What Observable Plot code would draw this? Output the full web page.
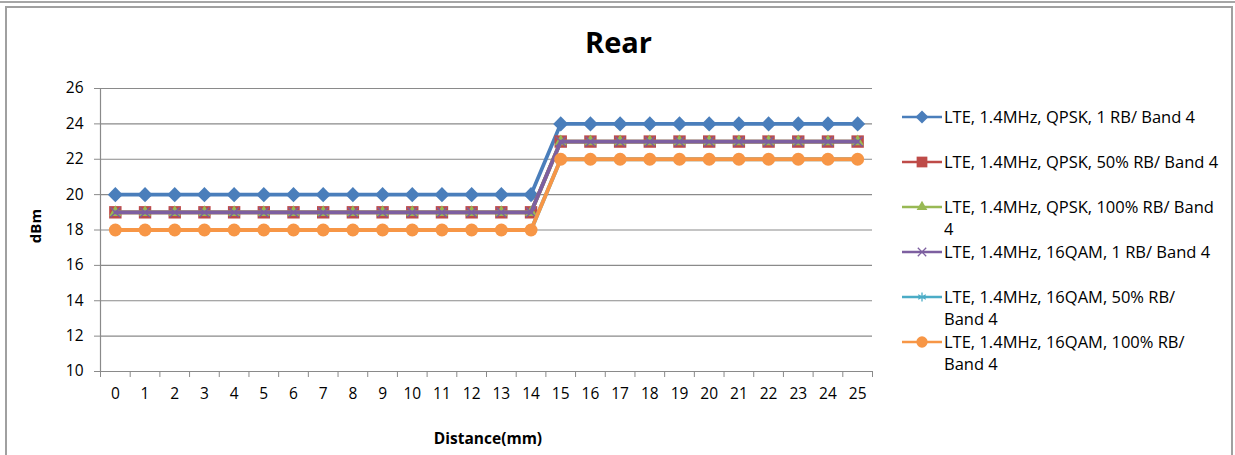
<!DOCTYPE html>
<html><head><meta charset="utf-8">
<script src="https://cdn.jsdelivr.net/npm/d3@7"></script>
<script src="https://cdn.jsdelivr.net/npm/@observablehq/plot@0.6"></script>
<style>
body{margin:0;background:#fff;}
#wrap{position:relative;width:1235px;height:455px;overflow:hidden;font-family:"Open Sans",sans-serif;color:#000;}
#topline{position:absolute;left:0;top:1px;width:1235px;border-top:2px solid #a6a6a6;}
#frame{position:absolute;left:5px;top:6px;width:1224px;height:480px;border:2px solid #a0a0a0;}
#chart{position:absolute;left:0;top:0;}
#title{position:absolute;left:5px;width:1227px;top:23px;text-align:center;font-size:29px;font-weight:bold;line-height:38px;}
#ylab{position:absolute;left:35px;top:226px;transform:translate(-50%,-50%) rotate(-90deg);font-size:15px;font-weight:bold;}
#xlab{position:absolute;left:488px;top:438px;transform:translate(-50%,-50%);font-size:15.5px;font-weight:bold;white-space:nowrap;}
.leg{position:absolute;left:900px;font-size:16.5px;line-height:22px;white-space:pre;}
.leg svg{position:absolute;left:0;top:0;}
.leg span{position:absolute;left:44px;top:0;}
</style></head>
<body>
<div id="wrap">
  <div id="topline"></div>
  <div id="frame"></div>
  <div id="chart"></div>
  <div id="title"></div>
  <div id="ylab"></div>
  <div id="xlab"></div>
</div>
<script>
const titleText = "Rear";
const yLabel = "dBm";
const xLabel = "Distance(mm)";
const distances = d3.range(0, 26);
const yTicks = [10, 12, 14, 16, 18, 20, 22, 24, 26];
const seriesNames = [
  "LTE, 1.4MHz, QPSK, 1 RB/ Band 4",
  "LTE, 1.4MHz, QPSK, 50% RB/ Band 4",
  "LTE, 1.4MHz, QPSK, 100% RB/ Band\n4",
  "LTE, 1.4MHz, 16QAM, 1 RB/ Band 4",
  "LTE, 1.4MHz, 16QAM, 50% RB/\nBand 4",
  "LTE, 1.4MHz, 16QAM, 100% RB/\nBand 4"
];
const qpsk1RB   = [20,20,20,20,20,20,20,20,20,20,20,20,20,20,20,24,24,24,24,24,24,24,24,24,24,24];
const qpsk50RB  = [19,19,19,19,19,19,19,19,19,19,19,19,19,19,19,23,23,23,23,23,23,23,23,23,23,23];
const qpsk100RB = [19,19,19,19,19,19,19,19,19,19,19,19,19,19,19,23,23,23,23,23,23,23,23,23,23,23];
const qam1RB    = [19,19,19,19,19,19,19,19,19,19,19,19,19,19,19,23,23,23,23,23,23,23,23,23,23,23];
const qam50RB   = [18,18,18,18,18,18,18,18,18,18,18,18,18,18,18,22,22,22,22,22,22,22,22,22,22,22];
const qam100RB  = [18,18,18,18,18,18,18,18,18,18,18,18,18,18,18,22,22,22,22,22,22,22,22,22,22,22];
const seriesValues = [qpsk1RB, qpsk50RB, qpsk100RB, qam1RB, qam50RB, qam100RB];
const colors  = ["#4A7EBB", "#BE4B48", "#98B954", "#7D5FA0", "#4BACC6", "#F79646"];
const symbols = ["diamond2", "square", "triangle", "times", "asterisk", "circle"];
const radii   = [6.8, 7, 4.6, 4.5, 4.8, 6.5];
const d3Sym = {diamond2: d3.symbolDiamond2, square: d3.symbolSquare, triangle: d3.symbolTriangle, times: d3.symbolTimes, asterisk: d3.symbolAsterisk, circle: d3.symbolCircle};

document.getElementById("title").textContent = titleText;
document.getElementById("ylab").textContent = yLabel;
document.getElementById("xlab").textContent = xLabel;

const xDomain = [d3.min(distances) - 0.5, d3.max(distances) + 0.5];
const bounds = d3.range(xDomain[0], xDomain[1] + 0.01, 1);
const gridColor = "#8a8a8a";

const marks = [
  Plot.ruleY(yTicks, {stroke: gridColor, strokeWidth: 1.2}),
  Plot.ruleX([xDomain[0]], {stroke: gridColor, strokeWidth: 1.2}),
  Plot.axisY(yTicks, {tickSize: 6, tickPadding: 11, stroke: gridColor, fontSize: 15.5, fill: "#000", label: null}),
  Plot.axisX(bounds, {tickSize: 6, stroke: gridColor, tickFormat: () => "", label: null}),
  Plot.axisX(distances, {tickSize: 0, tickPadding: 16, fontSize: 15.5, fill: "#000", label: null})
];
seriesValues.forEach((vals, i) => {
  const data = distances.map((d, j) => ({x: d, y: vals[j]}));
  marks.push(Plot.line(data, {x: "x", y: "y", stroke: colors[i], strokeWidth: 3.8}));
  const filled = !(symbols[i] === "times" || symbols[i] === "asterisk");
  marks.push(Plot.dot(data, {x: "x", y: "y", symbol: () => symbols[i], r: radii[i],
    fill: filled ? colors[i] : "none", stroke: filled ? "none" : colors[i], strokeWidth: 1.5}));
});

const plot = Plot.plot({
  width: 1235, height: 455,
  marginLeft: 100, marginRight: 363, marginTop: 88, marginBottom: 84,
  x: {type: "linear", domain: xDomain, axis: null},
  y: {domain: [10, 26], axis: null},
  symbol: {type: "identity"},
  style: {background: "transparent", fontFamily: "Open Sans, sans-serif", fontSize: "15px", color: "#000", overflow: "visible"},
  marks
});
document.getElementById("chart").appendChild(plot);

const wrap = document.getElementById("wrap");
seriesNames.forEach((name, i) => {
  const div = document.createElement("div");
  div.className = "leg";
  div.style.top = (106 + i * 45) + "px";
  const svg = d3.create("svg").attr("width", 44).attr("height", 22);
  svg.append("line").attr("x1", 2).attr("x2", 42).attr("y1", 11).attr("y2", 11).attr("stroke", colors[i]).attr("stroke-width", 2.5);
  const filled = !(symbols[i] === "times" || symbols[i] === "asterisk");
  svg.append("path").attr("transform", "translate(22,11)")
    .attr("d", d3.symbol(d3Sym[symbols[i]], Math.PI * radii[i] * radii[i] * 0.75)())
    .attr("fill", filled ? colors[i] : "none").attr("stroke", filled ? "none" : colors[i]).attr("stroke-width", 1.3);
  div.appendChild(svg.node());
  const span = document.createElement("span");
  span.textContent = name;
  div.appendChild(span);
  wrap.appendChild(div);
});
</script>
</body></html>
